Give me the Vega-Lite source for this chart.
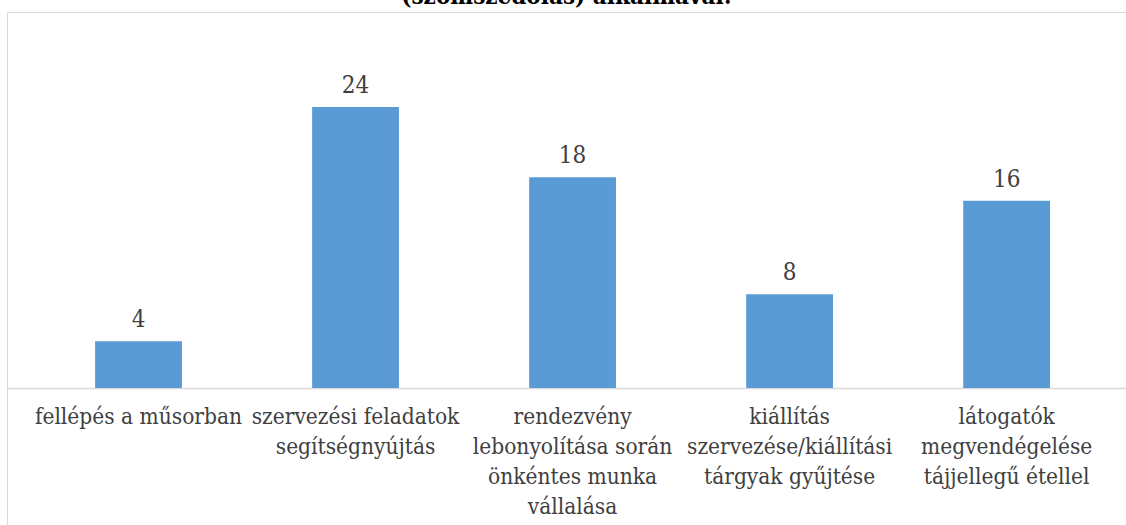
{
  "$schema": "https://vega.github.io/schema/vega-lite/v6.json",
  "autosize": {"type": "none"},
  "padding": {"left": 7, "top": 12, "right": 0, "bottom": 0},
  "width": 1119,
  "height": 513,
  "background": "white",
  "title": {
    "text": "(szomszédolás) alkalmával:",
    "font": "DejaVu Serif Condensed, DejaVu Serif",
    "fontSize": 24,
    "fontWeight": "bold",
    "color": "#000000",
    "anchor": "middle",
    "baseline": "alphabetic",
    "offset": 0,
    "dy": 16
  },
  "data": {
    "values": [
      {"cat": "fellépés a műsorban", "value": 4},
      {"cat": "szervezési feladatok|segítségnyújtás", "value": 24},
      {"cat": "rendezvény|lebonyolítása során|önkéntes munka|vállalása", "value": 18},
      {"cat": "kiállítás|szervezése/kiállítási|tárgyak gyűjtése", "value": 8},
      {"cat": "látogatók|megvendégelése|tájjellegű étellel", "value": 16}
    ]
  },
  "config": {
    "view": {"stroke": "#d9d9d9", "strokeWidth": 1},
    "font": "DejaVu Serif"
  },
  "encoding": {
    "x": {
      "field": "cat",
      "type": "nominal",
      "sort": null,
      "scale": {"paddingInner": 0.6, "paddingOuter": 0.378, "align": 0.537},
      "axis": {
        "title": null,
        "orient": "bottom",
        "offset": -137,
        "labelAngle": 0,
        "labelExpr": "split(datum.label, '|')",
        "labelFont": "DejaVu Serif Condensed, DejaVu Serif",
        "labelFontSize": 22.5,
        "labelColor": "#404040",
        "labelLineHeight": 30,
        "labelBaseline": "top",
        "labelPadding": 17,
        "labelLimit": 0,
        "ticks": false,
        "domainColor": "#d9d9d9",
        "domainWidth": 1.5,
        "grid": false
      }
    },
    "y": {
      "field": "value",
      "type": "quantitative",
      "scale": {"domain": [-11.7, 32.11], "nice": false, "zero": false},
      "axis": null
    }
  },
  "layer": [
    {
      "mark": {"type": "bar", "color": "#5b9bd5"},
      "encoding": {"y2": {"datum": 0}}
    },
    {
      "mark": {
        "type": "text",
        "baseline": "alphabetic",
        "dy": -14,
        "font": "DejaVu Serif Condensed, DejaVu Serif",
        "fontSize": 24,
        "color": "#404040"
      },
      "encoding": {"text": {"field": "value", "type": "quantitative"}}
    }
  ]
}
